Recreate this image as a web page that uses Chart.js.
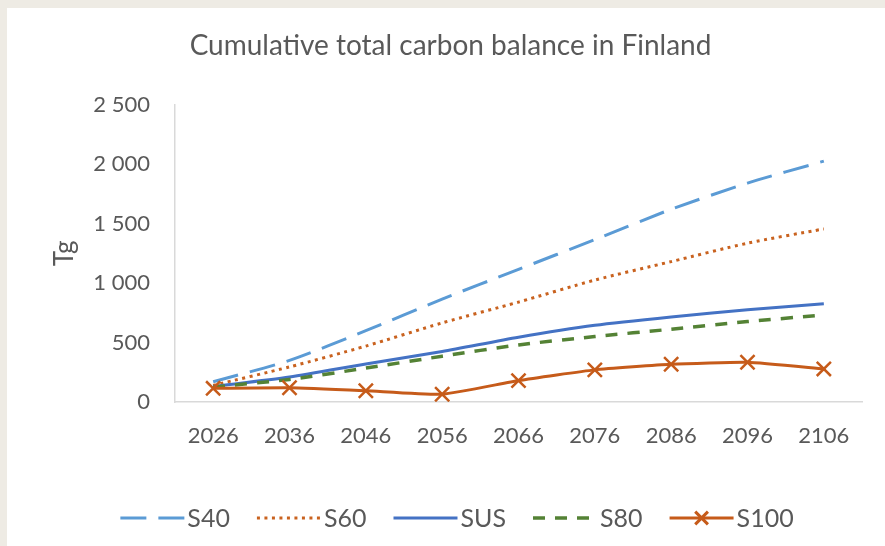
<!DOCTYPE html>
<html>
<head>
<meta charset="utf-8">
<script src="https://cdn.jsdelivr.net/npm/chart.js@4.4.1/dist/chart.umd.min.js"></script>
<style>
  html, body { margin: 0; padding: 0; background: #eeebe4; }
  #wrap { position: absolute; left: 7px; top: 8px; width: 878px; height: 538px; background: #ffffff; }
</style>
</head>
<body>
<div id="wrap"><canvas id="carbonChart" width="878" height="538"></canvas></div>
<script>
// Cumulative total carbon balance (Tg)
const years = ['2026', '2036', '2046', '2056', '2066', '2076', '2086', '2096', '2106'];
const s40  = [170, 350, 600, 865, 1115, 1365, 1620, 1840, 2025];
const s60  = [140, 295, 470, 665, 840, 1025, 1180, 1335, 1455];
const sus  = [130, 210, 320, 425, 545, 645, 715, 775, 825];
const s80  = [125, 190, 285, 385, 480, 550, 612, 676, 732];
const s100 = [115, 120, 95, 65, 180, 270, 317, 334, 278];

const FONT = 'Lato, "Open Sans", sans-serif';
const TEXT = '#595959';

// y tick labels with a space as thousands separator, like "2 500"
function thousands(v) {
    if (v < 1000) return String(v);
    const rest = String(v % 1000).padStart(3, '0');
    return Math.floor(v / 1000) + ' ' + rest;
}

// legend drawn by hand so every sample shows its own dash and marker
const lineLegend = {
    id: 'lineLegend',
    afterDraw(chart) {
        const ctx = chart.ctx;
        const sample = 64, textGap = 3, itemGap = 27, y = 510;
        ctx.save();
        ctx.font = '25px ' + FONT;
        ctx.textBaseline = 'middle';
        const items = chart.data.datasets.map(ds => ({ ds, w: sample + textGap + ctx.measureText(ds.label).width }));
        const total = items.reduce((a, it) => a + it.w, 0) + itemGap * (items.length - 1);
        let x = chart.width / 2 - total / 2 + 11;
        items.forEach(({ ds, w }) => {
            ctx.strokeStyle = ds.borderColor;
            ctx.lineWidth = ds.borderWidth;
            ctx.setLineDash(ds.legendDash || ds.borderDash || []);
            ctx.beginPath();
            ctx.moveTo(x, y);
            ctx.lineTo(x + sample, y);
            ctx.stroke();
            ctx.setLineDash([]);
            if (ds.pointRadius > 0) {
                Chart.helpers.drawPoint(ctx, { pointStyle: ds.pointStyle, radius: ds.pointRadius - 1, borderWidth: ds.pointBorderWidth }, x + sample / 2, y);
            }
            ctx.fillStyle = TEXT;
            ctx.fillText(ds.label, x + sample + textGap, y + 1);
            x += w + itemGap;
        });
        ctx.restore();
    }
};

const ctx = document.getElementById('carbonChart').getContext('2d');

const config = {
    type: 'line',
    data: {
        labels: years,
        datasets: [
            {
                label: 'S40',
                data: s40,
                borderColor: '#5b9bd5',
                borderWidth: 3,
                borderDash: [26, 12],
                legendDash: [26, 12],
                pointRadius: 0,
                tension: 0.25,
                order: 4
            },
            {
                label: 'S60',
                data: s60,
                borderColor: '#c9621f',
                borderWidth: 3,
                borderDash: [3, 4.5],
                pointRadius: 0,
                tension: 0.25,
                order: 3
            },
            {
                label: 'SUS',
                data: sus,
                borderColor: '#4472c4',
                borderWidth: 3,
                pointRadius: 0,
                tension: 0.25,
                order: 2
            },
            {
                label: 'S80',
                data: s80,
                borderColor: '#548235',
                borderWidth: 3.5,
                borderDash: [12, 10],
                pointRadius: 0,
                tension: 0.25,
                order: 1
            },
            {
                label: 'S100',
                data: s100,
                borderColor: '#c65b1a',
                borderWidth: 3,
                pointStyle: 'crossRot',
                pointRadius: 10,
                pointBorderWidth: 2.5,
                pointBorderColor: '#c65b1a',
                tension: 0.15,
                order: 0
            }
        ]
    },
    options: {
        responsive: false,
        animation: false,
        layout: {
            padding: { left: 16, right: 7, top: 0, bottom: 84 }
        },
        scales: {
            x: {
                offset: true,
                grid: { display: false, drawTicks: false },
                border: { display: true, color: '#d9d9d9', width: 1.5 },
                ticks: {
                    color: TEXT,
                    font: { family: FONT, size: 22 },
                    padding: 21,
                    maxRotation: 0
                },
                afterFit(scale) { scale.height = 60; }
            },
            y: {
                min: 0,
                max: 2500,
                grid: { display: false, drawTicks: false },
                border: { display: true, color: '#d9d9d9', width: 1.5 },
                ticks: {
                    stepSize: 500,
                    color: TEXT,
                    font: { family: FONT, size: 22 },
                    padding: 25,
                    callback: v => thousands(v)
                },
                title: {
                    display: true,
                    text: 'Tg',
                    color: TEXT,
                    font: { family: FONT, size: 26 },
                    padding: { top: 26 }
                },
                afterFit(scale) { scale.width = 152; }
            },
            // empty right-hand axis, only keeps the plot clear of the right edge
            spacer: {
                type: 'linear',
                position: 'right',
                grid: { display: false, drawTicks: false },
                border: { display: false },
                ticks: { display: false },
                afterFit(scale) { scale.width = 16; }
            }
        },
        plugins: {
            legend: { display: false },
            tooltip: { enabled: false },
            title: {
                display: true,
                text: 'Cumulative total carbon balance in Finland',
                color: TEXT,
                font: { family: FONT, size: 28, weight: 'normal' },
                padding: { top: 21, bottom: 42 }
            }
        }
    },
    plugins: [lineLegend]
};

const carbonChart = new Chart(ctx, config);
</script>
</body>
</html>
